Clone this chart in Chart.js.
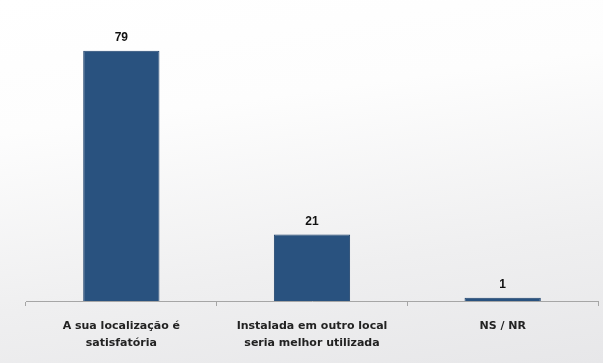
<!DOCTYPE html>
<html>
<head>
<meta charset="utf-8">
<script src="https://cdn.jsdelivr.net/npm/chart.js@4/dist/chart.umd.min.js"></script>
<style>
  html, body { margin: 0; padding: 0; }
  body {
    width: 603px; height: 363px; overflow: hidden;
    background: linear-gradient(172deg, #ffffff 0%, #fdfdfd 30%, #efeff0 70%, #e7e7e9 100%);
  }
  #wrap { position: relative; width: 603px; height: 363px; }
</style>
</head>
<body>
<div id="wrap"><canvas id="chart" width="603" height="363"></canvas></div>
<script>
var categories = [
    ['A sua localização é', 'satisfatória'],
    ['Instalada em outro local', 'seria melhor utilizada'],
    'NS / NR'
];
var values = [79, 21, 1];

// rótulos de valor acima das barras
var valueLabels = {
    id: 'valueLabels',
    afterDatasetsDraw: function (chart) {
        var ctx = chart.ctx;
        var meta = chart.getDatasetMeta(0);
        ctx.save();
        ctx.font = 'bold 12px "Liberation Sans", Arial, sans-serif';
        ctx.fillStyle = '#111111';
        ctx.textAlign = 'center';
        ctx.textBaseline = 'bottom';
        meta.data.forEach(function (bar, i) {
            ctx.fillText(values[i], bar.x, bar.y - 7);
        });
        ctx.restore();
    }
};

var ctx = document.getElementById('chart').getContext('2d');
var myChart = new Chart(ctx, {
    type: 'bar',
    data: {
        labels: categories,
        datasets: [{
            data: values,
            backgroundColor: '#29527f',
            borderColor: '#1d416b',
            borderWidth: 1,
            categoryPercentage: 1.0,
            barPercentage: 0.4
        }]
    },
    options: {
        responsive: false,
        animation: false,
        layout: { padding: { left: 26, right: 5, top: 16, bottom: 0 } },
        plugins: {
            legend: { display: false },
            tooltip: { enabled: false }
        },
        scales: {
            y: {
                display: false,
                min: 0,
                max: 90
            },
            x: {
                offset: true,
                grid: {
                    display: true,
                    offset: true,
                    drawOnChartArea: false,
                    drawTicks: true,
                    tickLength: 5,
                    color: '#a6a6a6'
                },
                border: { display: true, color: '#a6a6a6', width: 1 },
                ticks: {
                    color: '#222222',
                    padding: 12,
                    maxRotation: 0,
                    font: { family: '"DejaVu Sans", Verdana, sans-serif', size: 11, weight: 'bold', lineHeight: 1.5 }
                }
            }
        }
    },
    plugins: [valueLabels]
});
</script>
</body>
</html>
